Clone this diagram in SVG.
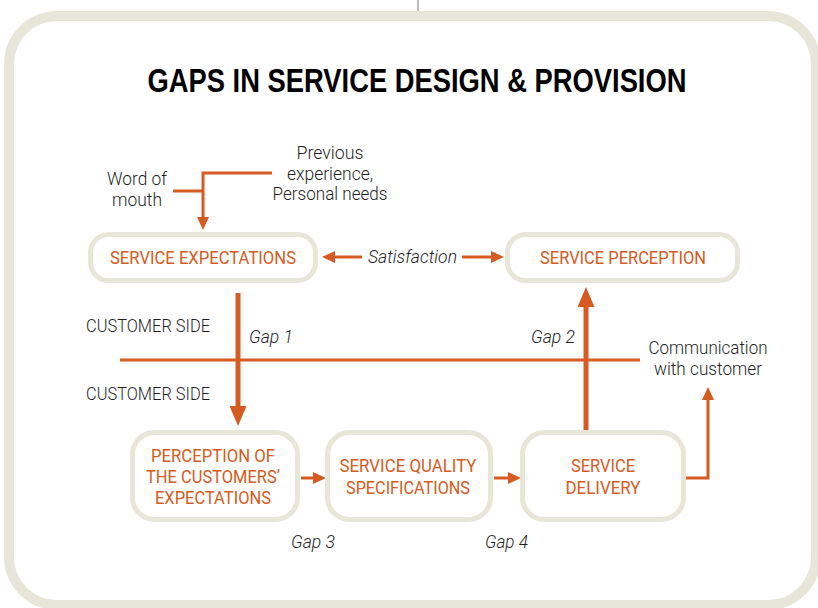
<svg xmlns="http://www.w3.org/2000/svg" width="818" height="608" viewBox="0 0 818 608">
  <style>
    .frame { fill: #ffffff; stroke: #e8e6d9; stroke-width: 10; }
    .box { fill: #ffffff; stroke: #e8e6d9; stroke-width: 5; }
    .node-text { font-family: Roboto, "Liberation Sans", sans-serif; font-weight: 400; font-size: 18px; fill: #d55b22; text-anchor: middle; }
    .label { font-family: Roboto, "Liberation Sans", sans-serif; font-weight: 300; font-size: 18px; fill: #1e1e1e; }
    .mid { text-anchor: middle; }
    .it { font-style: italic; }
    .title { font-family: "Liberation Sans", Arial, sans-serif; font-weight: 900; font-size: 34px; fill: #000000; text-anchor: middle; }
    .line { fill: none; stroke: #d55b22; stroke-width: 3; }
    .thick { fill: none; stroke: #d55b22; stroke-width: 5; }
  </style>
  <defs>
    <marker id="tip" markerUnits="userSpaceOnUse" markerWidth="14" markerHeight="13" refX="1" refY="6" orient="auto">
      <path d="M0,0 L13,6 L0,12 z" fill="#d55b22"/>
    </marker>
    <marker id="tip-big" markerUnits="userSpaceOnUse" markerWidth="21" markerHeight="18" refX="1" refY="8.5" orient="auto">
      <path d="M0,0 L20,8.5 L0,17 z" fill="#d55b22"/>
    </marker>
  </defs>

  <!-- hanger tick and outer frame -->
  <line x1="418" y1="0" x2="418" y2="12" stroke="#777777" stroke-width="1"/>
  <rect class="frame" x="9" y="16" width="807" height="589" rx="48"/>

  <text class="title" x="417" y="92" textLength="539" lengthAdjust="spacingAndGlyphs">GAPS IN SERVICE DESIGN &amp; PROVISION</text>

  <!-- free labels -->
  <g id="label-word-of-mouth">
    <text class="label mid" x="137" y="185" textLength="60" lengthAdjust="spacingAndGlyphs">Word of</text>
    <text class="label mid" x="137" y="206" textLength="50" lengthAdjust="spacingAndGlyphs">mouth</text>
  </g>
  <g id="label-previous">
    <text class="label mid" x="330" y="159" textLength="67" lengthAdjust="spacingAndGlyphs">Previous</text>
    <text class="label mid" x="330" y="180" textLength="86" lengthAdjust="spacingAndGlyphs">experience,</text>
    <text class="label mid" x="330" y="200" textLength="115" lengthAdjust="spacingAndGlyphs">Personal needs</text>
  </g>
  <g id="label-satisfaction">
    <text class="label it" x="368" y="263" textLength="89" lengthAdjust="spacingAndGlyphs">Satisfaction</text>
  </g>
  <g id="label-sides">
    <text class="label" x="86" y="332" textLength="124" lengthAdjust="spacingAndGlyphs">CUSTOMER SIDE</text>
    <text class="label" x="86" y="400" textLength="124" lengthAdjust="spacingAndGlyphs">CUSTOMER SIDE</text>
  </g>
  <g id="label-gaps">
    <text class="label it" x="249" y="343" textLength="44" lengthAdjust="spacingAndGlyphs">Gap 1</text>
    <text class="label it" x="531" y="343" textLength="44" lengthAdjust="spacingAndGlyphs">Gap 2</text>
    <text class="label it" x="291" y="548" textLength="44" lengthAdjust="spacingAndGlyphs">Gap 3</text>
    <text class="label it" x="485" y="548" textLength="43" lengthAdjust="spacingAndGlyphs">Gap 4</text>
  </g>
  <g id="label-communication">
    <text class="label mid" x="708" y="354" textLength="119" lengthAdjust="spacingAndGlyphs">Communication</text>
    <text class="label mid" x="708" y="375" textLength="108" lengthAdjust="spacingAndGlyphs">with customer</text>
  </g>

  <!-- connectors -->
  <g id="connectors">
    <path class="line" d="M173,191 H203"/>
    <path class="line" d="M272,173 H203 V218" marker-end="url(#tip)"/>
    <path class="line" d="M362,257 H334" marker-end="url(#tip)"/>
    <path class="line" d="M462,257 H492" marker-end="url(#tip)"/>
    <path class="line" d="M120,360 H640"/>
    <path class="thick" d="M238,293 V407" marker-end="url(#tip-big)"/>
    <path class="thick" d="M586,430 V306" marker-end="url(#tip-big)"/>
    <path class="line" d="M301,478 H314" marker-end="url(#tip)"/>
    <path class="line" d="M494,478 H509" marker-end="url(#tip)"/>
    <path class="line" d="M686,478 H708 V399" marker-end="url(#tip)"/>
  </g>

  <!-- nodes -->
  <g id="service-expectations">
    <rect class="box" x="90.5" y="234.5" width="225" height="46" rx="18"/>
    <text class="node-text" x="203" y="264" textLength="186" lengthAdjust="spacingAndGlyphs">SERVICE EXPECTATIONS</text>
  </g>
  <g id="service-perception">
    <rect class="box" x="507.5" y="234.5" width="230" height="46" rx="18"/>
    <text class="node-text" x="623" y="264" textLength="166" lengthAdjust="spacingAndGlyphs">SERVICE PERCEPTION</text>
  </g>
  <g id="perception-of-expectations">
    <rect class="box" x="132.5" y="432.5" width="165" height="87" rx="22"/>
    <text class="node-text" x="213" y="462" textLength="124" lengthAdjust="spacingAndGlyphs">PERCEPTION OF</text>
    <text class="node-text" x="213" y="483" textLength="134" lengthAdjust="spacingAndGlyphs">THE CUSTOMERS’</text>
    <text class="node-text" x="213" y="504" textLength="116" lengthAdjust="spacingAndGlyphs">EXPECTATIONS</text>
  </g>
  <g id="service-quality-specifications">
    <rect class="box" x="327.5" y="432.5" width="163" height="87" rx="22"/>
    <text class="node-text" x="408" y="472" textLength="137" lengthAdjust="spacingAndGlyphs">SERVICE QUALITY</text>
    <text class="node-text" x="408" y="494" textLength="124" lengthAdjust="spacingAndGlyphs">SPECIFICATIONS</text>
  </g>
  <g id="service-delivery">
    <rect class="box" x="522.5" y="432.5" width="161" height="87" rx="22"/>
    <text class="node-text" x="603" y="472" textLength="64" lengthAdjust="spacingAndGlyphs">SERVICE</text>
    <text class="node-text" x="603" y="494" textLength="75" lengthAdjust="spacingAndGlyphs">DELIVERY</text>
  </g>
</svg>
